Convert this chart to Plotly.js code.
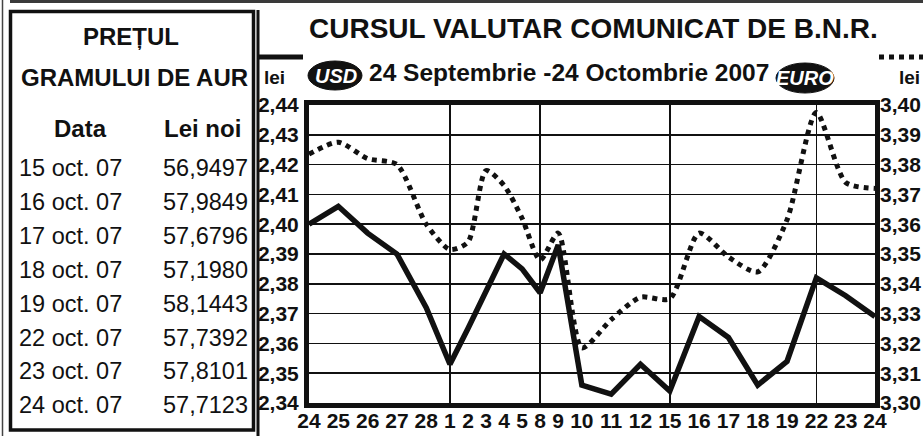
<!DOCTYPE html>
<html><head><meta charset="utf-8">
<script src="https://cdn.plot.ly/plotly-3.0.1.min.js"></script>
<style>html,body{margin:0;padding:0;background:#fff;} #chart{width:923px;height:436px;}</style>
</head><body><div id="chart"></div>
<script>
// ---- data ----
const dates = ['2007-09-24','2007-09-25','2007-09-26','2007-09-27','2007-09-28',
  '2007-10-01','2007-10-02','2007-10-03','2007-10-04','2007-10-05',
  '2007-10-08','2007-10-09','2007-10-10','2007-10-11','2007-10-12',
  '2007-10-15','2007-10-16','2007-10-17','2007-10-18','2007-10-19',
  '2007-10-22','2007-10-23','2007-10-24'];
const usdRate = [2.400,2.406,2.397,2.390,2.372,
  2.353,2.365,2.378,2.390,2.385,
  2.377,2.393,2.346,2.343,2.353,
  2.344,2.369,2.362,2.346,2.354,
  2.382,2.376,2.369];
const euroRate = [3.3835,3.3875,3.382,3.380,3.360,
  3.3515,3.354,3.378,3.373,3.362,
  3.348,3.357,3.3185,3.328,3.3355,
  3.335,3.357,3.349,3.344,3.3615,
  3.3975,3.374,3.372];
const goldDates = ['15 oct. 07','16 oct. 07','17 oct. 07','18 oct. 07','19 oct. 07','22 oct. 07','23 oct. 07','24 oct. 07'];
const goldPrices = [56.9497,57.9849,57.6796,57.1980,58.1443,57.7392,57.8101,57.7123];

// ---- derived axis positions (typeset like the original: each label takes its own width) ----
const dayLabels = dates.map(d => String(parseInt(d.slice(8), 10)));
const pos = [];
let acc = 0;
dayLabels.forEach(l => { const w = l.length + 0.6; pos.push(acc + w / 2); acc += w; });
const mondays = pos.filter((p, i) => new Date(dates[i] + 'T00:00:00Z').getUTCDay() === 1);

const FONT = 'Liberation Sans, Arial, Helvetica, sans-serif';
const L = 309, R = 875, T = 105, B = 403;
const px = x => (x - L) / (R - L);
const py = y => (B - y) / (B - T);

const traces = [
  {x: pos, y: usdRate, xaxis: 'x', yaxis: 'y', mode: 'lines', type: 'scatter',
   line: {color: '#111', width: 5.5}, hoverinfo: 'skip'},
  {x: pos, y: euroRate, xaxis: 'x2', yaxis: 'y2', mode: 'lines', type: 'scatter',
   line: {color: '#111', width: 5, dash: '5px,5px', shape: 'spline', smoothing: 0.7}, hoverinfo: 'skip'}
];

const ann = [];
function txt(x, y, text, size, opts) {
  ann.push(Object.assign({xref: 'paper', yref: 'paper', x: px(x), y: py(y), text: text,
    showarrow: false, xanchor: 'center', yanchor: 'middle',
    font: {family: FONT, size: size, color: '#111'}}, opts || {}));
}
txt(593, 28, '<b>CURSUL VALUTAR COMUNICAT DE B.N.R.</b>', 28);
txt(569, 72, '<b>24 Septembrie -24 Octombrie 2007</b>', 24.5);
txt(274, 78, '<b>lei</b>', 19);
txt(909, 78, '<b>lei</b>', 19);
txt(335.5, 75.5, '<b><i>USD</i></b>', 20, {font: {family: FONT, size: 20, color: '#fff'}});
txt(804.5, 78, '<b><i>EURO</i></b>', 20, {font: {family: FONT, size: 20, color: '#fff'}});
txt(131, 36, '<b>PREȚUL</b>', 24);
txt(134, 78, '<b>GRAMULUI DE AUR</b>', 24);
txt(80, 128, '<b>Data</b>', 24);
txt(202, 128, '<b>Lei noi</b>', 24);
goldDates.forEach((d, i) => {
  const y = 168 + i * 33.9;
  txt(17, y, d, 23.5, {xanchor: 'left'});
  txt(250, y, goldPrices[i].toFixed(4).replace('.', ','), 23.5, {xanchor: 'right'});
});

const shapes = [
  {type: 'line', xref: 'paper', yref: 'paper', x0: px(10), x1: px(923), y0: py(1.5), y1: py(1.5), line: {color: '#3a3a3a', width: 3}},
  {type: 'line', xref: 'paper', yref: 'paper', x0: px(2.5), x1: px(2.5), y0: py(0), y1: py(436), line: {color: '#444', width: 1.5}},
  {type: 'rect', xref: 'paper', yref: 'paper', x0: px(10.5), x1: px(253.5), y0: py(11.5), y1: py(430), line: {color: '#111', width: 3.5}},
  {type: 'line', xref: 'paper', yref: 'paper', x0: px(258), x1: px(258), y0: py(10), y1: py(436), line: {color: '#111', width: 3}},
  {type: 'line', xref: 'paper', yref: 'paper', x0: px(259), x1: px(303), y0: py(57), y1: py(57), line: {color: '#111', width: 5}},
  {type: 'line', xref: 'paper', yref: 'paper', x0: px(879), x1: px(923), y0: py(57), y1: py(57), line: {color: '#111', width: 5, dash: '5px,5px'}},
  {type: 'circle', xref: 'paper', yref: 'paper', x0: px(308), x1: px(362), y0: py(61), y1: py(90), fillcolor: '#111', line: {color: '#111', width: 1}},
  {type: 'circle', xref: 'paper', yref: 'paper', x0: px(776), x1: px(834), y0: py(63), y1: py(93), fillcolor: '#111', line: {color: '#111', width: 1}}
];

const tickFont = {family: FONT, size: 21, color: '#111', weight: 'bold'};
const layout = {
  width: 923, height: 436,
  margin: {l: L, r: 923 - R, t: T, b: 436 - B, pad: 0},
  paper_bgcolor: '#fff', plot_bgcolor: '#fff',
  showlegend: false, separators: ',.',
  font: {family: FONT, color: '#111'},
  xaxis: {range: [pos[0], pos[pos.length - 1]], tickmode: 'array', tickvals: pos, ticktext: dayLabels,
    tickangle: 0, showgrid: false, zeroline: false, showline: true, linewidth: 5, linecolor: '#111',
    mirror: true, ticks: '', ticklabelstandoff: -5, tickfont: {family: FONT, size: 21, color: '#111', weight: 'bold'}},
  xaxis2: {overlaying: 'x', anchor: 'y2', range: [pos[0], pos[pos.length - 1]], tickmode: 'array',
    tickvals: mondays, showticklabels: false, ticks: '', showgrid: true, gridcolor: '#111', gridwidth: 1.5,
    zeroline: false, showline: false},
  yaxis: {range: [2.34, 2.44], tick0: 2.34, dtick: 0.01, tickformat: '.2f', showgrid: true,
    gridcolor: '#111', gridwidth: 1.5, zeroline: false, showline: true, linewidth: 5, linecolor: '#111',
    mirror: true, ticks: '', ticklabelstandoff: 1, tickfont: tickFont},
  yaxis2: {overlaying: 'y', anchor: 'x2', side: 'right', range: [3.30, 3.40], tick0: 3.30, dtick: 0.01,
    tickformat: '.2f', showgrid: false, zeroline: false, showline: false, ticks: '', ticklabelstandoff: 4, tickfont: tickFont},
  annotations: ann,
  shapes: shapes
};
Plotly.newPlot('chart', traces, layout, {staticPlot: true, displayModeBar: false});
</script></body></html>
